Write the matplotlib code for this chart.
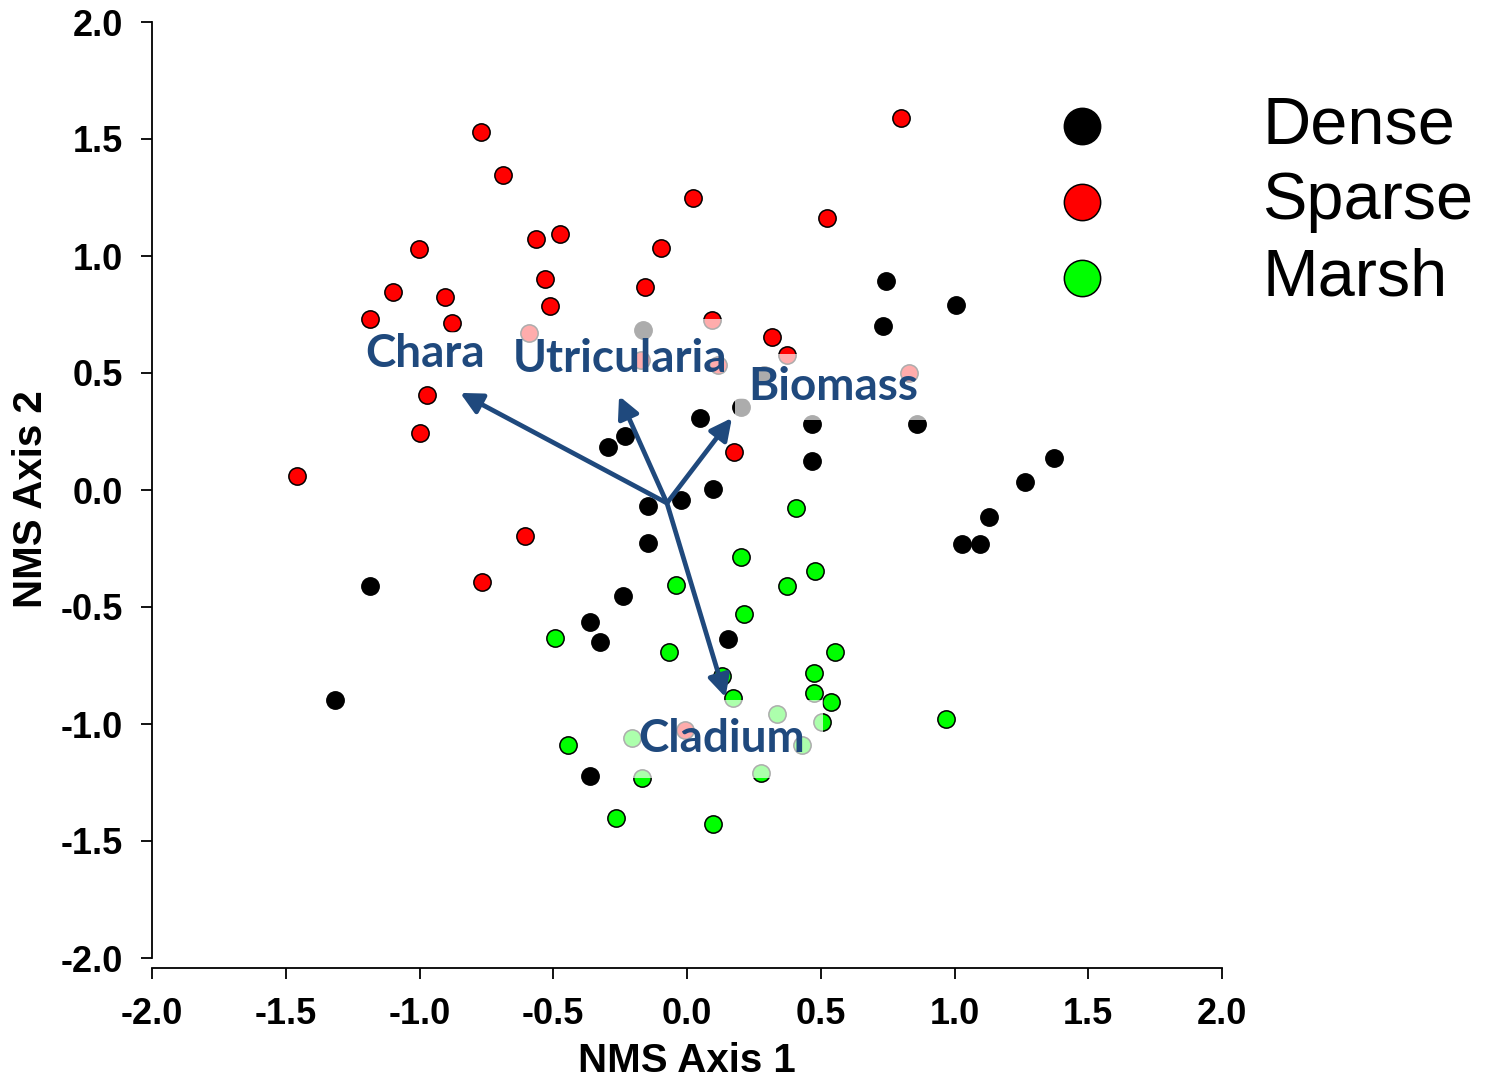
import matplotlib
matplotlib.use("Agg")
import matplotlib.pyplot as plt

# NMS site scores
dense_x = [0.744, 1.005, 0.732, -0.164, 0.288, 0.202, 0.467, 0.860, 0.049, -0.232,
           -0.295, 0.467, 1.371, 0.097, 1.263, -0.022, -0.146, 1.129, 1.028, 1.095,
           -0.146, -1.185, -0.239, -0.362, -0.325, 0.153, -1.315, -0.362]
dense_y = [0.894, 0.791, 0.702, 0.684, 0.492, 0.355, 0.282, 0.282, 0.308, 0.231,
           0.184, 0.124, 0.137, 0.004, 0.034, -0.043, -0.068, -0.116, -0.231, -0.231,
           -0.227, -0.411, -0.453, -0.565, -0.650, -0.637, -0.898, -1.224]

sparse_x = [-0.770, -0.688, 0.800, 0.022, 0.523, -0.564, -0.475, -1.001, -0.097, -0.531,
            -1.099, -0.904, -0.157, -0.512, -1.185, -0.878, 0.093, 0.318, -0.590, 0.374,
            -0.172, 0.116, 0.830, -0.972, -0.998, 0.176, -1.457, -0.605, -0.766, -0.009]
sparse_y = [1.532, 1.348, 1.591, 1.249, 1.164, 1.074, 1.095, 1.031, 1.035, 0.903,
            0.847, 0.826, 0.868, 0.787, 0.732, 0.714, 0.727, 0.655, 0.672, 0.578,
            0.556, 0.535, 0.501, 0.406, 0.244, 0.163, 0.060, -0.197, -0.394, -1.027]

marsh_x = [0.407, 0.202, 0.478, -0.041, 0.374, -0.493, 0.213, -0.067, 0.553, 0.131,
           0.475, 0.172, 0.475, 0.540, 0.336, 0.504, 0.968, -0.206, 0.430, -0.445,
           -0.168, 0.276, -0.265, 0.097]
marsh_y = [-0.077, -0.287, -0.347, -0.406, -0.411, -0.633, -0.530, -0.693, -0.693, -0.796,
           -0.783, -0.887, -0.868, -0.907, -0.958, -0.993, -0.980, -1.061, -1.091, -1.091,
           -1.232, -1.211, -1.403, -1.429]

# joint plot vectors (origin and tip)
vec_names = ["Chara", "Utricularia", "Biomass", "Cladium"]
vec_origin = (-0.075, -0.056)
vec_tip_x = [-0.848, -0.254, 0.168, 0.144]
vec_tip_y = [0.415, 0.402, 0.308, -0.886]
label_x = [-0.98, -0.25, 0.545, 0.13]
label_y = [0.58, 0.56, 0.44, -1.065]
label_pad = [1, 14, 9, 13]

ticks = [-2.0, -1.5, -1.0, -0.5, 0.0, 0.5, 1.0, 1.5, 2.0]
tick_labels = [f"{t:.1f}" for t in ticks]
vec_color = "#1f497d"

plt.rcParams["font.family"] = ["Liberation Sans", "DejaVu Sans"]

fig = plt.figure(figsize=(14.88, 10.8), dpi=100)
ax = fig.add_axes([152 / 1488, 122 / 1080, 1070 / 1488, 936 / 1080])

# spine position first: moving it resets the tick labels
ax.spines["top"].set_visible(False)
ax.spines["right"].set_visible(False)
ax.spines["bottom"].set_position(("outward", 7))
ax.spines["left"].set_linewidth(1.3)
ax.spines["bottom"].set_linewidth(1.3)

pt_kw = dict(s=155, edgecolors="black", linewidths=1.1, zorder=3)
ax.scatter(dense_x, dense_y, c="black", label="Dense", **pt_kw)
ax.scatter(sparse_x, sparse_y, c="#ff0000", label="Sparse", **pt_kw)
ax.scatter(marsh_x, marsh_y, c="#00ff00", label="Marsh", **pt_kw)

for name, tx, ty, lx, ly, pd in zip(vec_names, vec_tip_x, vec_tip_y,
                                    label_x, label_y, label_pad):
    ax.annotate("", xy=(tx, ty), xytext=vec_origin,
                arrowprops=dict(arrowstyle="-|>,head_length=1.3,head_width=0.65",
                                color=vec_color, lw=3.4, shrinkA=0, shrinkB=0),
                zorder=4)
    ax.text(lx, ly, name, family="Lato", fontweight="bold", fontsize=33,
            color=vec_color, ha="center", va="center", zorder=5,
            bbox=dict(facecolor="white", alpha=0.68, edgecolor="none", pad=pd))

ax.set_xlim(-2, 2)
ax.set_ylim(-2, 2)
ax.set_xticks(ticks)
ax.set_yticks(ticks)
ax.set_xticklabels(tick_labels, fontweight="bold", fontsize=26)
ax.set_yticklabels(tick_labels, fontweight="bold", fontsize=26)
ax.tick_params(axis="both", length=8, width=1.3, direction="out")
ax.tick_params(axis="y", pad=13)
ax.tick_params(axis="x", pad=13)

ax.set_xlabel("NMS Axis 1", fontsize=29, fontweight="bold", labelpad=7)
ax.set_ylabel("NMS Axis 2", fontsize=29, fontweight="bold")
ax.yaxis.set_label_coords(-0.095, 0.49)

ax.legend(loc="upper left", bbox_to_anchor=(1049 / 1488, 1 - 95 / 1080),
          bbox_transform=fig.transFigure, frameon=False, fontsize=48,
          markerscale=2.1, handlelength=1.0, handletextpad=2.2,
          labelspacing=0.21, borderpad=0, borderaxespad=0, scatterpoints=1)

fig.savefig("out.png", dpi=100)
